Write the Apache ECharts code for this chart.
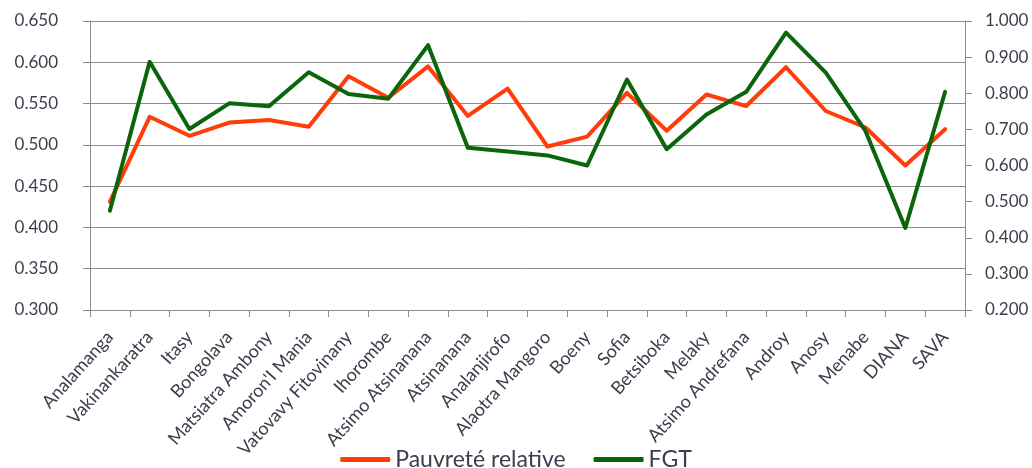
<!DOCTYPE html>
<html>
<head>
<meta charset="utf-8">
<script src="https://cdn.jsdelivr.net/npm/echarts@6/dist/echarts.min.js"></script>
<style>
  html, body { margin: 0; padding: 0; background: #fff; }
  #chart { width: 1032px; height: 468px; }
</style>
</head>
<body>
<div id="chart"></div>
<script>
// Regions of Madagascar
const regions = [
  'Analamanga', 'Vakinankaratra', 'Itasy', 'Bongolava', 'Matsiatra Ambony',
  "Amoron'I Mania", 'Vatovavy Fitovinany', 'Ihorombe', 'Atsimo Atsinanana',
  'Atsinanana', 'Analanjirofo', 'Alaotra Mangoro', 'Boeny', 'Sofia',
  'Betsiboka', 'Melaky', 'Atsimo Andrefana', 'Androy', 'Anosy', 'Menabe',
  'DIANA', 'SAVA'
];

// Relative poverty (left axis)
const pauvreteRelative = [
  0.431, 0.534, 0.511, 0.527, 0.530, 0.522, 0.583, 0.557, 0.595, 0.535, 0.568,
  0.498, 0.510, 0.563, 0.517, 0.561, 0.547, 0.594, 0.541, 0.521, 0.475, 0.519
];

// FGT index (right axis)
const fgt = [
  0.475, 0.887, 0.701, 0.772, 0.764, 0.858, 0.798, 0.785, 0.933, 0.649, 0.639,
  0.628, 0.600, 0.838, 0.645, 0.741, 0.804, 0.968, 0.857, 0.695, 0.427, 0.804
];

// Axis tick label values
const leftTicks = { min: 0.3, max: 0.65, step: 0.05 };
const rightTicks = { min: 0.2, max: 1.0, step: 0.1 };

const font = 'Lato, "Open Sans", sans-serif';
const labelColor = '#3a3f4c';
const axisGrey = '#8c8c8c';

const chart = echarts.init(document.getElementById('chart'), null, { renderer: 'canvas' });

chart.setOption({
  animation: false,
  backgroundColor: '#ffffff',
  grid: { left: 90, right: 67, top: 21, bottom: 158, containLabel: false },
  legend: {
    top: 443,
    left: 'center',
    itemWidth: 50,
    itemHeight: 5,
    itemGap: 28,
    icon: 'roundRect',
    textStyle: { fontFamily: font, fontSize: 23, color: '#3a3f4c' },
    data: ['Pauvreté relative', 'FGT']
  },
  xAxis: {
    type: 'category',
    data: regions,
    boundaryGap: true,
    axisLine: { lineStyle: { color: axisGrey, width: 1 } },
    axisTick: { show: true, length: 7, alignWithLabel: false, lineStyle: { color: axisGrey } },
    axisLabel: {
      interval: 0,
      rotate: 48,
      margin: 24,
      fontFamily: font,
      fontSize: 18,
      color: labelColor
    }
  },
  yAxis: [
    {
      type: 'value',
      min: leftTicks.min,
      max: leftTicks.max,
      interval: leftTicks.step,
      position: 'left',
      axisLine: { show: true, lineStyle: { color: axisGrey, width: 1 } },
      axisTick: { show: true, length: 7, lineStyle: { color: axisGrey } },
      splitLine: { show: true, lineStyle: { color: axisGrey, width: 1 } },
      axisLabel: {
        margin: 32,
        fontFamily: font,
        fontSize: 17,
        color: labelColor,
        formatter: v => v.toFixed(3)
      }
    },
    {
      type: 'value',
      min: rightTicks.min,
      max: rightTicks.max,
      interval: rightTicks.step,
      position: 'right',
      axisLine: { show: true, lineStyle: { color: axisGrey, width: 1 } },
      axisTick: { show: true, length: 7, lineStyle: { color: axisGrey } },
      splitLine: { show: false },
      axisLabel: {
        margin: 20,
        fontFamily: font,
        fontSize: 17,
        color: labelColor,
        formatter: v => v.toFixed(3)
      }
    }
  ],
  series: [
    {
      name: 'Pauvreté relative',
      type: 'line',
      yAxisIndex: 0,
      data: pauvreteRelative,
      showSymbol: false,
      symbol: 'none',
      color: '#ff3c0a',
      lineStyle: { color: '#ff3c0a', width: 4, cap: 'round', join: 'round' },
      z: 2
    },
    {
      name: 'FGT',
      type: 'line',
      yAxisIndex: 1,
      data: fgt,
      showSymbol: false,
      symbol: 'none',
      color: '#0b650b',
      lineStyle: { color: '#0b650b', width: 4, cap: 'round', join: 'round' },
      z: 3
    }
  ]
});
</script>
</body>
</html>
